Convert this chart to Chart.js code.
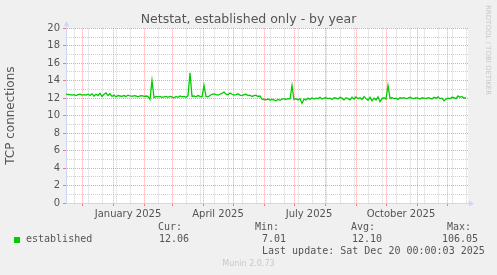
<!DOCTYPE html>
<html>
<head>
<meta charset="utf-8">
<script src="https://cdn.jsdelivr.net/npm/chart.js@4"></script>
<style>
  html, body { margin: 0; padding: 0; background: #f0f0f0; }
  #wrap { position: relative; width: 497px; height: 275px; overflow: hidden; }
  canvas { position: absolute; left: 0; top: 0; }
  .mono { position: absolute; font-family: "DejaVu Sans Mono", monospace; font-size: 10px; line-height: 12px; color: #555; white-space: pre; }
  #swatch { position: absolute; left: 14px; top: 237px; width: 6px; height: 6px; background: #00cc00; }
  #rrd { position: absolute; left: 484px; top: 5px; writing-mode: vertical-rl; font-family: "DejaVu Sans", sans-serif; font-size: 7px; color: #c8c8c8; white-space: nowrap; }
  #munin { position: absolute; left: 0; width: 497px; top: 259px; text-align: center; font-family: "DejaVu Sans", sans-serif; font-size: 8px; line-height: 10px; color: #c8c8c8; }
</style>
</head>
<body>
<div id="wrap">
  <canvas id="netstat_year" width="497" height="275"></canvas>
  <div id="rrd">RRDTOOL / TOBI OETIKER</div>
  <div class="mono" style="left:158px; top:221px">Cur:</div>
  <div class="mono" style="left:255px; top:221px">Min:</div>
  <div class="mono" style="left:351px; top:221px">Avg:</div>
  <div class="mono" style="left:447px; top:221px">Max:</div>
  <div id="swatch"></div>
  <div class="mono" style="left:26px; top:233px">established</div>
  <div class="mono" style="left:159px; top:233px">12.06</div>
  <div class="mono" style="left:262px; top:233px">7.01</div>
  <div class="mono" style="left:352px; top:233px">12.10</div>
  <div class="mono" style="left:442px; top:233px">106.05</div>
  <div class="mono" style="left:262px; top:245px">Last update: Sat Dec 20 00:00:03 2025</div>
  <div id="munin">Munin 2.0.73</div>
</div>
<script>
// days counted from 2024-11-15 (left edge of the graph)
const sampleStep = 2;
const established = [
  12.5, 12.4, 12.4, 12.35, 12.4, 12.3, 12.4, 12.45, 12.35, 12.4,
  12.35, 12.45, 12.3, 12.5, 12.25, 12.45, 12.3, 12.55, 12.2, 12.45,
  12.6, 12.3, 12.5, 12.2, 12.35, 12.15, 12.3, 12.25, 12.2, 12.3,
  12.2, 12.35, 12.25, 12.2, 12.3, 12.25, 12.15, 12.25, 12.3, 12.2,
  12.25, 12.2, 11.85, 14.0, 12.05, 12.2, 12.15, 12.2, 12.1, 12.15,
  12.2, 12.1, 12.2, 12.15, 12.05, 12.2, 12.1, 12.25, 12.15, 12.2,
  12.1, 12.3, 14.9, 12.2, 12.25, 12.15, 12.3, 12.2, 12.15, 13.45,
  12.2, 12.15, 12.3, 12.45, 12.5, 12.4, 12.35, 12.45, 12.55, 12.7,
  12.45, 12.4, 12.6, 12.45, 12.35, 12.4, 12.5, 12.35, 12.3, 12.4,
  12.45, 12.3, 12.35, 12.2, 12.3, 12.35, 12.2, 12.25, 11.9, 11.85,
  11.8, 11.9, 11.75, 11.85, 11.8, 11.7, 11.85, 11.75, 11.9, 11.95,
  11.85, 11.95, 11.9, 13.45, 11.85, 11.95, 11.8, 11.95, 11.4, 11.9,
  11.8, 12.0, 11.85, 12.05, 11.9, 12.0, 11.95, 12.1, 11.9, 12.0,
  12.05, 11.95, 12.0, 11.85, 12.05, 12.0, 11.9, 12.1, 12.0, 11.8,
  12.05, 11.95, 11.8, 12.1, 11.9, 12.15, 11.95, 12.05, 11.85, 12.2,
  11.95, 11.75, 12.1, 11.7, 12.0, 11.8, 12.15, 11.6, 11.95, 12.05,
  11.9, 13.45, 12.0, 12.05, 11.95, 12.0, 11.85, 12.05, 12.0, 12.05,
  11.95, 12.0, 12.1, 12.0, 11.95, 12.05, 12.0, 11.9, 12.05, 12.0,
  11.95, 12.05, 12.0, 11.9, 12.1, 12.0, 12.15, 11.95, 12.0, 11.7,
  11.9, 12.0, 11.95, 12.1, 12.05, 11.95, 12.25, 12.1, 12.2, 12.0,
  12.06
];

// month boundaries (major grid), biweekly minor grid, quarter labels
const monthStarts = [16, 47, 78, 106, 137, 167, 198, 228, 259, 290, 320, 351, 381];
const minorDays = [8, 22, 36, 50, 64, 92, 120, 134, 148, 162, 176, 190, 204, 218, 232, 246, 260, 274, 288, 302, 316, 330, 344, 358, 372, 386, 400];
const quarterDays = [62, 152, 243, 335];
const quarterLabels = ['January 2025', 'April 2025', 'July 2025', 'October 2025'];
const yMax = 20;

const RED = 'rgba(255, 0, 0, 0.38)';
const GREY = 'rgba(140, 140, 140, 0.4)';
const AXIS = '#cfd6f8';

const points = established.map((v, i) => ({x: i * sampleStep, y: v}));
const xTicks = [...new Set([...monthStarts, ...minorDays, ...quarterDays])].sort((a, b) => a - b);

function xKind(v) {
    if (monthStarts.includes(v)) return 'major';
    if (quarterDays.includes(v)) return 'label';
    return 'minor';
}

const plotBackground = {
    id: 'plotBackground',
    beforeDraw(chart) {
        const {ctx, chartArea: a} = chart;
        ctx.save();
        ctx.fillStyle = '#ffffff';
        ctx.fillRect(a.left, a.top, a.right - a.left, a.bottom - a.top);
        ctx.restore();
    }
};

const axisArrows = {
    id: 'axisArrows',
    afterDraw(chart) {
        const {ctx, chartArea: a} = chart;
        const x0 = Math.round(a.left) + 0.5;
        const y0 = Math.round(a.bottom) + 0.5;
        ctx.save();
        ctx.strokeStyle = AXIS;
        ctx.fillStyle = AXIS;
        ctx.lineWidth = 1;
        ctx.beginPath();
        ctx.moveTo(x0, a.top);
        ctx.lineTo(x0, a.top - 3);
        ctx.moveTo(a.right, y0);
        ctx.lineTo(a.right + 2, y0);
        ctx.stroke();
        ctx.beginPath();
        ctx.moveTo(x0 - 3, a.top - 2);
        ctx.lineTo(x0 + 3, a.top - 2);
        ctx.lineTo(x0, a.top - 7);
        ctx.closePath();
        ctx.fill();
        ctx.beginPath();
        ctx.moveTo(a.right + 1, y0 - 3);
        ctx.lineTo(a.right + 1, y0 + 3);
        ctx.lineTo(a.right + 6, y0);
        ctx.closePath();
        ctx.fill();
        ctx.restore();
    }
};

const ctx = document.getElementById('netstat_year');
const netstat_chart = new Chart(ctx, {
    type: 'line',
    data: {
        datasets: [
            {
                label: 'established',
                data: points,
                borderColor: '#00cc00',
                borderWidth: 1.3,
                pointRadius: 0,
                fill: false,
                tension: 0
            }
        ]
    },
    options: {
        responsive: false,
        animation: false,
        devicePixelRatio: 1,
        layout: {
            autoPadding: false,
            padding: 0
        },
        plugins: {
            legend: {display: false},
            tooltip: {enabled: false},
            title: {
                display: true,
                text: 'Netstat, established only - by year',
                color: '#555',
                font: {family: 'DejaVu Sans', size: 12.5, weight: 'normal'},
                padding: {top: 12, bottom: 1.3}
            }
        },
        scales: {
            x: {
                type: 'linear',
                min: 0,
                max: 402,
                afterFit: (scale) => { scale.height = 72; },
                afterBuildTicks: (scale) => {
                    scale.ticks = xTicks.map(v => ({value: v}));
                },
                ticks: {
                    autoSkip: false,
                    maxRotation: 0,
                    padding: 2,
                    color: '#555',
                    font: {family: 'DejaVu Sans', size: 10},
                    callback: (v) => {
                        const i = quarterDays.indexOf(v);
                        return i >= 0 ? quarterLabels[i] : '';
                    }
                },
                grid: {
                    color: (c) => {
                        const k = xKind(c.tick.value);
                        return k === 'major' ? RED : (k === 'minor' ? GREY : 'rgba(0,0,0,0)');
                    },
                    tickColor: (c) => xKind(c.tick.value) === 'major' ? 'rgba(255,0,0,0.5)' : 'rgba(0,0,0,0)',
                    tickLength: 3,
                    tickBorderDash: []
                },
                border: {color: AXIS, dash: [1, 1]}
            },
            y: {
                min: 0,
                max: yMax,
                afterFit: (scale) => { scale.width = 66; },
                ticks: {
                    stepSize: 1,
                    autoSkip: false,
                    padding: 3,
                    color: '#555',
                    font: {family: 'DejaVu Sans', size: 10},
                    callback: (v) => v % 2 === 0 ? String(v) : ''
                },
                grid: {
                    color: (c) => c.tick.value % 2 === 0 ? RED : GREY,
                    tickColor: (c) => c.tick.value % 2 === 0 ? 'rgba(255,0,0,0.5)' : 'rgba(0,0,0,0)',
                    tickLength: 3,
                    tickBorderDash: []
                },
                border: {color: AXIS, dash: [1, 1]},
                title: {
                    display: true,
                    text: 'TCP connections',
                    color: '#555',
                    font: {family: 'DejaVu Sans', size: 12},
                    padding: {top: 4, bottom: 0}
                }
            },
            // empty right-hand box that keeps the margin beside the plot
            spacer: {
                axis: 'y',
                position: 'right',
                min: 0,
                max: yMax,
                afterFit: (scale) => { scale.width = 29; },
                ticks: {display: false},
                grid: {display: false, drawOnChartArea: false},
                border: {display: false}
            }
        }
    },
    plugins: [plotBackground, axisArrows]
});
</script>
</body>
</html>
